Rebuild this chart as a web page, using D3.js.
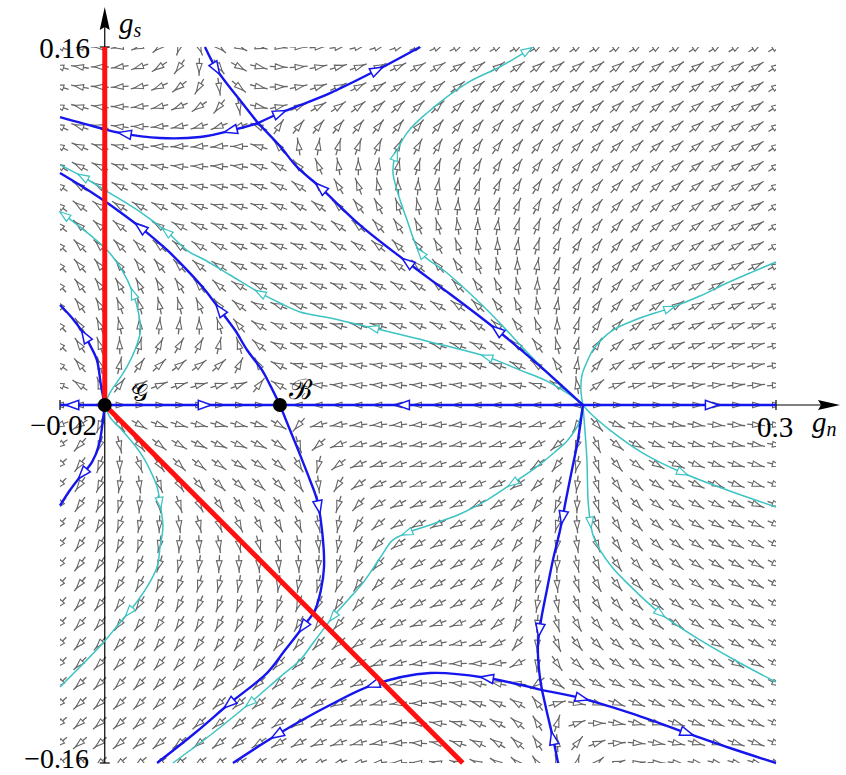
<!DOCTYPE html>
<html><head><meta charset="utf-8">
<script src="https://cdn.jsdelivr.net/npm/d3@7"></script>
<style>body{margin:0;background:#fff}svg{display:block}</style>
</head><body>
<svg id="chart" width="846" height="775"></svg>
<script>
// ---- fixed points of the flow
const fixedG = [0, 0];
const fixedB = [0.0783, 0];
const fixedC = [0.2137, 0];

// ---- axis tick values
const xTickVals = [-0.02, 0.3];
const yTickVals = [-0.16, 0.16];

// ---- flow coefficients (monomials 1,u,v,u²,uv,v²,u³,u²v,uv²,v³,u⁴,u³v,u²v²,uv³,v⁴ with u=gn/0.1, v=gs/0.1)
const betaNcoef = [0.04050,-2.788,-1.533,2.981,2.512,1.727,-0.8688,-0.6651,-1.039,-0.5790,0.05763,0.04407,0.08406,0.1262,0.04240];
const betaScoef = [1.496,-2.316,-2.174,1.146,2.665,0.9363,0.03330,-0.7402,-0.9176,-0.1081,-0.007860,0.02219,0.06343,0.06018,0.004136];

// ---- separatrices (blue), each listed along the flow
const sepS1West = [[0.0685,0.1260],[0.0573,0.1229],[0.0426,0.1198],[0.0247,0.1193],[0.0068,0.1216],[-0.0021,0.1238],[-0.02,0.1287]];
const sepS1East = [[0.0685,0.1260],[0.0783,0.1305],[0.0873,0.1340],[0.1007,0.1394],[0.1217,0.1497],[0.1409,0.16]];
const sepS1North = [[0.0448,0.16],[0.0502,0.1497],[0.0604,0.1363],[0.0685,0.1260]];
const sepCtoS1 = [[0.2137,0],[0.1945,0.0174],[0.1753,0.0335],[0.1543,0.0496],[0.1351,0.0639],[0.1141,0.0804],[0.0962,0.0974],[0.0859,0.1064],[0.0783,0.1157],[0.0685,0.1260]];
const sepCtoS2 = [[0.2137,0],[0.2115,-0.0156],[0.2088,-0.0290],[0.2061,-0.0425],[0.2035,-0.0559],[0.2003,-0.0693],[0.1976,-0.0827],[0.1950,-0.0961],[0.1936,-0.1073],[0.1941,-0.1184],[0.1954,-0.1274]];
const sepS2South = [[0.2026,-0.16],[0.2003,-0.1488],[0.1976,-0.1372],[0.1954,-0.1274]];
const sepS2East = [[0.1954,-0.1274],[0.2124,-0.1309],[0.2347,-0.1376],[0.2602,-0.1466],[0.2794,-0.1533],[0.30,-0.16]];
const sepS2West = [[0.1954,-0.1274],[0.1708,-0.1220],[0.1454,-0.1198],[0.1199,-0.1251],[0.1007,-0.1341],[0.0783,-0.1466],[0.0573,-0.16]];
const sepBSouth = [[0.0783,0],[0.0828,-0.0112],[0.0873,-0.0223],[0.0917,-0.0335],[0.0949,-0.0425],[0.0971,-0.0559],[0.0980,-0.0724],[0.0966,-0.0827],[0.0940,-0.0916],[0.0886,-0.0992],[0.0806,-0.1095],[0.0725,-0.1198],[0.0560,-0.1332],[0.0403,-0.1466],[0.0234,-0.16]];
const sepBNorth = [[0.0783,0],[0.0739,0.0089],[0.0703,0.0156],[0.0636,0.0246],[0.0582,0.0335],[0.0515,0.0425],[0.0448,0.0514],[0.0368,0.0603],[0.0278,0.0693],[0.0158,0.0795],[0.0068,0.0863],[-0.0021,0.0925],[-0.0111,0.0983],[-0.02,0.1037]];
const sepGNorthWest = [[0,0],[-0.0017,0.0089],[-0.0035,0.0201],[-0.0066,0.0268],[-0.0097,0.0322],[-0.0146,0.0389],[-0.02,0.0447]];
const sepGSouthWest = [[0,0],[-0.0008,-0.0067],[-0.0026,-0.0179],[-0.0057,-0.0255],[-0.0111,-0.0322],[-0.0155,-0.0380],[-0.02,-0.0450]];
const axisGWest = [[0,0],[-0.02,0]];
const axisGtoB = [[0,0],[0.0783,0]];
const axisCtoB = [[0.2137,0],[0.0783,0]];
const axisCEast = [[0.2137,0],[0.30,0]];

// ---- sample trajectories (cyan)
const trajC1 = [[0.2137,0],[0.2128,0.0067],[0.2133,0.0134],[0.2155,0.0192],[0.2182,0.0246],[0.2227,0.0299],[0.2271,0.0335],[0.2392,0.0389],[0.2526,0.0433],[0.2660,0.0487],[0.2781,0.0545],[0.2893,0.0594],[0.30,0.0639]];
const trajC2 = [[0.2137,0],[0.2169,-0.0036],[0.2258,-0.0112],[0.2405,-0.0215],[0.2584,-0.0304],[0.2781,-0.0380],[0.30,-0.0456]];
const trajC3 = [[0.2137,0],[0.2146,-0.0112],[0.2155,-0.0246],[0.2160,-0.0425],[0.2169,-0.0514],[0.2182,-0.0581],[0.2213,-0.0648],[0.2267,-0.0724],[0.2334,-0.0795],[0.2481,-0.0930],[0.2660,-0.1050],[0.2839,-0.1153],[0.30,-0.1238]];
const trajC4 = [[0.2137,0],[0.2035,0.0089],[0.1900,0.0223],[0.1766,0.0366],[0.1677,0.0456],[0.1530,0.0590],[0.1409,0.0684],[0.1351,0.0827],[0.1306,0.0961],[0.1288,0.1041],[0.1297,0.1108],[0.1351,0.1216],[0.1440,0.1305],[0.1619,0.1439],[0.1766,0.1511],[0.1900,0.1591]];
const trajC5 = [[0.2137,0],[0.2079,0.0045],[0.1976,0.0107],[0.1856,0.0156],[0.1708,0.0215],[0.1454,0.0282],[0.1199,0.0344],[0.1007,0.0389],[0.0873,0.0416],[0.0783,0.0456],[0.0694,0.0501],[0.0560,0.0581],[0.0448,0.0648],[0.0372,0.0688],[0.0278,0.0773],[0.0158,0.0863],[0.0023,0.0947],[-0.0097,0.1019],[-0.02,0.1073]];
const trajC6 = [[0.2137,0],[0.2115,-0.0089],[0.2070,-0.0156],[0.2012,-0.0210],[0.1923,-0.0282],[0.1824,-0.0349],[0.1708,-0.0425],[0.1588,-0.0487],[0.1454,-0.0536],[0.1351,-0.0572],[0.1288,-0.0603],[0.1230,-0.0684],[0.1154,-0.0795],[0.1087,-0.0871],[0.1020,-0.0947],[0.0931,-0.1064],[0.0873,-0.1140],[0.0783,-0.1216],[0.0649,-0.1332],[0.0484,-0.1466],[0.0305,-0.16]];
const trajG1 = [[0,0],[0.0023,0.0054],[0.0068,0.0121],[0.0099,0.0170],[0.0135,0.0246],[0.0158,0.0322],[0.0153,0.0402],[0.0126,0.0501],[0.0077,0.0603],[0.0010,0.0693],[-0.0066,0.0760],[-0.0133,0.0813],[-0.02,0.0863]];
const trajG2 = [[0,0],[0.0023,-0.0054],[0.0068,-0.0103],[0.0126,-0.0170],[0.0171,-0.0232],[0.0202,-0.0290],[0.0234,-0.0366],[0.0247,-0.0438],[0.0260,-0.0545],[0.0247,-0.0635],[0.0234,-0.0724],[0.0189,-0.0813],[0.0126,-0.0903],[0.0059,-0.0983],[-0.0008,-0.1064],[-0.0102,-0.1162],[-0.02,-0.1260]];

// ---- curves with the spots where their arrowheads sit
const blueCurves = [
  {pts: sepS1West, arrows: [[0.0090,0.1216],[0.0561,0.1233]]},
  {pts: sepS1East, arrows: [[0.0783,0.1305],[0.1217,0.1497]]},
  {pts: sepS1North, arrows: [[0.0502,0.1506]]},
  {pts: sepCtoS1, arrows: [[0.0962,0.0970],[0.1351,0.0635],[0.1753,0.0335]]},
  {pts: sepCtoS2, arrows: [[0.2034,-0.0500],[0.1936,-0.1006]]},
  {pts: sepS2South, arrows: [[0.2003,-0.1488]]},
  {pts: sepS2East, arrows: [[0.2133,-0.1314],[0.2602,-0.1466]]},
  {pts: sepS2West, arrows: [[0.1708,-0.1220],[0.1199,-0.1251],[0.0770,-0.1475]]},
  {pts: sepBSouth, arrows: [[0.0962,-0.0456],[0.0886,-0.0992],[0.0551,-0.1332]]},
  {pts: sepBNorth, arrows: [[0.0515,0.0425],[0.0158,0.0795]]},
  {pts: sepGNorthWest, arrows: [[-0.0093,0.0304]]},
  {pts: sepGSouthWest, arrows: [[-0.0093,-0.0313]]},
  {pts: axisGWest, arrows: [[-0.0146,0]]},
  {pts: axisGtoB, arrows: [[0.0448,0]]},
  {pts: axisCtoB, arrows: [[0.1333,0]]},
  {pts: axisCEast, arrows: [[0.2713,0]]}
];
const cyanCurves = [
  {pts: trajC1, arrows: [[0.2526,0.0429]]},
  {pts: trajC2, arrows: [[0.2584,-0.0299]]},
  {pts: trajC3, arrows: [[0.2169,-0.0527],[0.2481,-0.0934]]},
  {pts: trajC4, arrows: [[0.1409,0.0679],[0.1300,0.1117],[0.1887,0.1587]]},
  {pts: trajC5, arrows: [[0.1708,0.0215],[0.1199,0.0344],[0.0694,0.0501],[0.0278,0.0778],[-0.0097,0.1019]]},
  {pts: trajG1, arrows: [[0.0140,0.0501],[-0.0186,0.0840]]},
  {pts: trajG2, arrows: [[0.0247,-0.0438],[0.0099,-0.0916]]},
  {pts: trajC6, arrows: [[0.1824,-0.0349],[0.1351,-0.0572],[0.1020,-0.0947],[0.0649,-0.1332]]}
];

// ---- stability boundaries (red)
const boundaryUpper = [[0,0],[0,0.16]];
const boundaryLower = [[0,0],[0.16,-0.16]];

// ---- flow: dgn = gn(gn-gB)(gn-gC) + gs·Σa·m, dgs = gs·Σb·m (scaled units)
const SC = 0.1;
function monomials(gn, gs){const u=gn/SC,v=gs/SC;return [1,u,v,u*u,u*v,v*v,u**3,u*u*v,u*v*v,v**3,u**4,u**3*v,u*u*v*v,u*v**3,v**4];}
function flow(gn, gs){
  const m=monomials(gn,gs),u=gn/SC,v=gs/SC;
  let P=u*(u-fixedB[0]/SC)*(u-fixedC[0]/SC),Q=0;
  m.forEach((t,k)=>{P+=v*betaNcoef[k]*t;Q+=v*betaScoef[k]*t;});
  return [P,Q];
}

// ---- scales
const x = d3.scaleLinear().domain([-0.02,0.3]).range([60,776]);
const y = d3.scaleLinear().domain([-0.16,0.16]).range([763,47]);
const svg = d3.select('#chart');
svg.append('defs').append('clipPath').attr('id','plotClip').append('rect')
  .attr('x',x(-0.02)).attr('y',y(0.16)).attr('width',x(0.3)-x(-0.02)).attr('height',y(-0.16)-y(0.16));

// ---- direction field
const gridN = 37;
const gxs = d3.range(gridN).map(i=>-0.02+i*0.32/(gridN-1));
const gys = d3.range(gridN).map(i=>-0.16+i*0.32/(gridN-1));
const fieldG = svg.append('g').attr('clip-path','url(#plotClip)');
gxs.forEach(gx=>gys.forEach(gy=>{
  const [P,Q]=flow(gx,gy);const ang=Math.atan2(-Q,P)*180/Math.PI;
  const g=fieldG.append('g').attr('transform',`translate(${x(gx)},${y(gy)}) rotate(${ang})`);
  g.append('path').attr('d','M-9,0L9,0').attr('stroke','#666').attr('stroke-width',1.3);
  g.append('path').attr('d','M5.5,0L-3.5,-2.8L-3.5,2.8Z').attr('fill','#fff').attr('stroke','#666').attr('stroke-width',1.1);
}));

// ---- axes
const axisG = svg.append('g');
axisG.append('line').attr('x1',x(-0.02)).attr('x2',832).attr('y1',y(0)).attr('y2',y(0)).attr('stroke','#000').attr('stroke-width',1.2);
axisG.append('path').attr('d',`M840,${y(0)}L818,${y(0)-5}L821,${y(0)}L818,${y(0)+5}Z`).attr('fill','#000');
axisG.append('line').attr('x1',x(0)).attr('x2',x(0)).attr('y1',y(-0.16)).attr('y2',14).attr('stroke','#000').attr('stroke-width',1.2);
axisG.append('path').attr('d',`M${x(0)},7L${x(0)-5},30L${x(0)},27L${x(0)+5},30Z`).attr('fill','#000');
yTickVals.forEach(v=>axisG.append('line').attr('x1',x(0)-5).attr('x2',x(0)+5).attr('y1',y(v)).attr('y2',y(v)).attr('stroke','#000').attr('stroke-width',1.2));
xTickVals.forEach(v=>axisG.append('line').attr('x1',x(v)).attr('x2',x(v)).attr('y1',y(0)-5).attr('y2',y(0)+5).attr('stroke','#000').attr('stroke-width',1.2));

// ---- trajectories with open arrowheads
const line = d3.line().x(d=>x(d[0])).y(d=>y(d[1])).curve(d3.curveCatmullRom.alpha(0.5));
function drawCurves(list, color, width, aL, aW, aS){
  const g = svg.append('g');
  list.forEach(c=>{
    const path = g.append('path').attr('d',line(c.pts)).attr('fill','none').attr('stroke',color).attr('stroke-width',width);
    const node = path.node(), total = node.getTotalLength();
    c.arrows.forEach(a=>{
      const tx=x(a[0]),ty=y(a[1]);let best=1e9,bl=0;
      for(let l=0;l<=total;l+=0.5){const p=node.getPointAtLength(l);const d=(p.x-tx)**2+(p.y-ty)**2;if(d<best){best=d;bl=l;}}
      const p=node.getPointAtLength(bl),p1=node.getPointAtLength(Math.max(0,bl-2)),p2=node.getPointAtLength(Math.min(total,bl+2));
      const ang=Math.atan2(p2.y-p1.y,p2.x-p1.x)*180/Math.PI;
      g.append('path').attr('transform',`translate(${p.x},${p.y}) rotate(${ang})`)
        .attr('d',`M${aL/2},0L${-aL/2},${-aW}L${-aL/2},${aW}Z`).attr('fill','#fff').attr('stroke',color).attr('stroke-width',aS);
    });
  });
}
drawCurves(cyanCurves,'#3cc3c3',1.5,11,3.8,1.2);
drawCurves(blueCurves,'#1515ee',2.4,13,4.6,1.5);

// ---- stability boundaries and labelled fixed points
const red = svg.append('g');
[boundaryUpper,boundaryLower].forEach(b=>red.append('path').attr('d',d3.line().x(d=>x(d[0])).y(d=>y(d[1]))(b)).attr('stroke','#ff1010').attr('stroke-width',5).attr('fill','none'));
[fixedG,fixedB].forEach(p=>svg.append('circle').attr('cx',x(p[0])).attr('cy',y(p[1])).attr('r',7).attr('fill','#000'));

// ---- text
const font = '"Liberation Serif", "DejaVu Serif", serif';
const txt = (s,tx,ty,anchor,fs)=>svg.append('text').attr('x',tx).attr('y',ty).attr('text-anchor',anchor).attr('font-family',font).attr('font-size',fs).attr('fill','#000').text(s);
txt('0.16',90,y(0.16)+11,'end',29);
txt('\u22120.16',89,768,'end',28);
txt('\u22120.02',97,y(0)+30,'end',29);
txt('0.3',757,y(0)+32,'start',29);
const gn = svg.append('text').attr('x',812).attr('y',y(0)+27).attr('font-family',font).attr('font-size',29).attr('font-style','italic');
gn.append('tspan').text('g');gn.append('tspan').attr('font-size',20).attr('dy',4).text('n');
const gs = svg.append('text').attr('x',119).attr('y',33).attr('font-family',font).attr('font-size',29).attr('font-style','italic');
gs.append('tspan').text('g');gs.append('tspan').attr('font-size',20).attr('dy',4).text('s');
svg.append('text').attr('x',x(fixedG[0])+26).attr('y',y(0)-4).attr('font-family','"DejaVu Serif", serif').attr('font-size',24).text('\u{1D4A2}');
svg.append('text').attr('x',x(fixedB[0])+9).attr('y',y(0)-6).attr('font-family','"DejaVu Serif", serif').attr('font-size',28).text('\u212C');
</script>
</body></html>
